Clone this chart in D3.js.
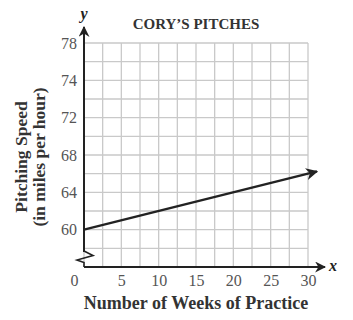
<!DOCTYPE html>
<html>
<head>
<meta charset="utf-8">
<script src="https://cdn.jsdelivr.net/npm/d3@7"></script>
<style>
  body { margin: 0; background: #fff; }
  svg text { font-family: "Liberation Serif", "DejaVu Serif", serif; }
</style>
</head>
<body>
<div id="chart"></div>
<script>
// data
var weeks = [0, 31.2];          // line runs past 30 to its arrow tip
var speeds = [60, 66.24];
var xTicks = [0, 5, 10, 15, 20, 25, 30];
var yTickValues = [60, 64, 68, 72, 76, 80];
var yTickLabels = ["60", "64", "68", "72", "74", "78"];
var title = "CORY\u2019S PITCHES";
var xTitle = "Number of Weeks of Practice";
var yTitle = ["Pitching Speed", "(in miles per hour)"];

var width = 353, height = 320;
var plotLeft = 84, plotRight = 308, plotTop = 43, plotBottom = 267;

var svg = d3.select('#chart').append('svg')
  .attr('width', width)
  .attr('height', height);

var x = d3.scaleLinear().domain([0, 30]).range([plotLeft, plotRight]);
var y = d3.scaleLinear().domain([56, 80]).range([plotBottom, plotTop]);

// arrow heads
var defs = svg.append('defs');
defs.append('marker')
  .attr('id', 'arrow')
  .attr('viewBox', '0 0 10 10')
  .attr('refX', 9).attr('refY', 5)
  .attr('markerWidth', 5.5).attr('markerHeight', 5.5)
  .attr('markerUnits', 'strokeWidth')
  .attr('orient', 'auto')
  .append('path')
  .attr('d', 'M0,0 L10,5 L0,10 L3,5 Z')
  .attr('fill', '#222');

// grid
var grid = svg.append('g').attr('stroke', '#c9c9c9').attr('stroke-width', 1.3);
grid.selectAll('line.v')
  .data(d3.range(0, 30.01, 2.5))
  .enter().append('line')
  .attr('class', 'v')
  .attr('x1', function(d) { return x(d); })
  .attr('x2', function(d) { return x(d); })
  .attr('y1', y(80)).attr('y2', y(56));
grid.selectAll('line.h')
  .data(d3.range(56, 80.01, 2))
  .enter().append('line')
  .attr('class', 'h')
  .attr('x1', x(0)).attr('x2', x(30))
  .attr('y1', function(d) { return y(d); })
  .attr('y2', function(d) { return y(d); });

// x axis
var xAxis = svg.append('g')
  .attr('transform', 'translate(0,' + plotBottom + ')')
  .call(d3.axisBottom(x).tickValues(xTicks).tickSize(0).tickPadding(8));
xAxis.select('.domain').remove();
xAxis.selectAll('text')
  .attr('font-size', 16)
  .attr('fill', '#555')
  .attr('dx', function(d) { return d === 0 ? -10 : 0; });

svg.append('line')
  .attr('x1', x(0)).attr('x2', 325)
  .attr('y1', plotBottom).attr('y2', plotBottom)
  .attr('stroke', '#222').attr('stroke-width', 2)
  .attr('marker-end', 'url(#arrow)');

svg.append('text')
  .attr('x', 329).attr('y', 271)
  .attr('font-size', 16).attr('font-style', 'italic').attr('font-weight', 'bold')
  .attr('fill', '#222')
  .text('x');

// y axis
var yAxis = svg.append('g')
  .attr('transform', 'translate(' + plotLeft + ',0)')
  .call(d3.axisLeft(y).tickValues(yTickValues).tickSize(0).tickPadding(7)
    .tickFormat(function(d, i) { return yTickLabels[i]; }));
yAxis.select('.domain').remove();
yAxis.selectAll('text')
  .attr('font-size', 16)
  .attr('fill', '#555');

svg.append('line')
  .attr('x1', plotLeft).attr('x2', plotLeft)
  .attr('y1', 252).attr('y2', 27)
  .attr('stroke', '#222').attr('stroke-width', 2)
  .attr('marker-end', 'url(#arrow)');

// axis break
svg.append('path')
  .attr('d', 'M84,251 L93,255.5 L77,260 L84,262.5 L84,267')
  .attr('fill', 'none')
  .attr('stroke', '#222').attr('stroke-width', 1.6)
  .attr('stroke-linejoin', 'miter');

svg.append('text')
  .attr('x', plotLeft).attr('y', 19)
  .attr('text-anchor', 'middle')
  .attr('font-size', 16).attr('font-style', 'italic').attr('font-weight', 'bold')
  .attr('fill', '#222')
  .text('y');

// the line
var line = d3.line()
  .x(function(d) { return x(d[0]); })
  .y(function(d) { return y(d[1]); });

svg.append('path')
  .datum(d3.zip(weeks, speeds))
  .attr('d', line)
  .attr('fill', 'none')
  .attr('stroke', '#222').attr('stroke-width', 2.2)
  .attr('marker-end', 'url(#arrow)');

// titles
svg.append('text')
  .attr('x', (plotLeft + plotRight) / 2).attr('y', 29)
  .attr('text-anchor', 'middle')
  .attr('font-size', 15).attr('font-weight', 'bold')
  .attr('fill', '#333')
  .text(title);

svg.append('text')
  .attr('x', (plotLeft + plotRight) / 2).attr('y', 309)
  .attr('text-anchor', 'middle')
  .attr('font-size', 18).attr('font-weight', 'bold')
  .attr('fill', '#333')
  .text(xTitle);

svg.selectAll('text.ytitle')
  .data(yTitle)
  .enter().append('text')
  .attr('class', 'ytitle')
  .attr('transform', function(d, i) {
    return 'translate(' + (27 + i * 18) + ',157) rotate(-90)';
  })
  .attr('text-anchor', 'middle')
  .attr('font-size', 17.5).attr('font-weight', 'bold')
  .attr('fill', '#333')
  .text(function(d) { return d; });
</script>
</body>
</html>
